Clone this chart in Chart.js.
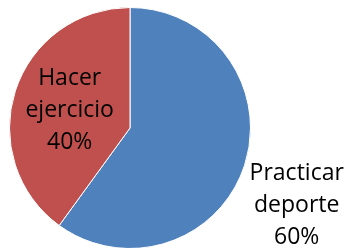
<!DOCTYPE html>
<html>
<head>
<meta charset="utf-8">
<script src="https://cdn.jsdelivr.net/npm/chart.js@4/dist/chart.umd.min.js"></script>
<style>
html,body{margin:0;padding:0;background:#fff;overflow:hidden;}
#wrap{position:relative;width:347px;height:250px;}
</style>
</head>
<body>
<div id="wrap"><canvas id="c"></canvas></div>
<script>
const categories = ["Practicar deporte", "Hacer ejercicio"];
const labelLines = [["Practicar", "deporte", "60%"], ["Hacer", "ejercicio", "40%"]];
const values = [60, 40];
const colors = ["#4F81BD", "#C0504D"];

const labelPlugin = {
  id: 'sliceLabels',
  afterDatasetsDraw(chart) {
    const ctx = chart.ctx;
    const meta = chart.getDatasetMeta(0);
    ctx.save();
    ctx.font = '23px "Open Sans"';
    ctx.fillStyle = '#000';
    ctx.textAlign = 'center';
    ctx.textBaseline = 'alphabetic';
    const lh = 32;
    meta.data.forEach((arc, i) => {
      const lines = labelLines[i];
      const p = arc.getProps(['x','y','startAngle','endAngle','outerRadius'], true);
      const mid = (p.startAngle + p.endAngle) / 2;
      if (i === 1) {
        const tp = arc.tooltipPosition(true);
        lines.forEach((t, k) => ctx.fillText(t, tp.x - 3, tp.y - 24 + k * lh));
      } else {
        const ex = p.x + Math.cos(mid) * p.outerRadius;
        const ey = p.y + Math.sin(mid) * p.outerRadius;
        const maxW = Math.max(...lines.map(t => ctx.measureText(t).width));
        const cx = ex + 5 + maxW / 2;
        lines.forEach((t, k) => ctx.fillText(t, cx, ey + 15 + k * lh));
      }
    });
    ctx.restore();
  }
};

new Chart(document.getElementById('c'), {
  type: 'pie',
  data: {
    labels: categories,
    datasets: [{
      data: values,
      backgroundColor: colors,
      borderColor: '#ffffff',
      borderWidth: 1
    }]
  },
  options: {
    responsive: true,
    maintainAspectRatio: false,
    animation: false,
    layout: { padding: { left: 9, right: 96, top: 7, bottom: 1 } },
    plugins: {
      legend: { display: false },
      tooltip: { enabled: false }
    }
  },
  plugins: [labelPlugin]
});
</script>
</body>
</html>
